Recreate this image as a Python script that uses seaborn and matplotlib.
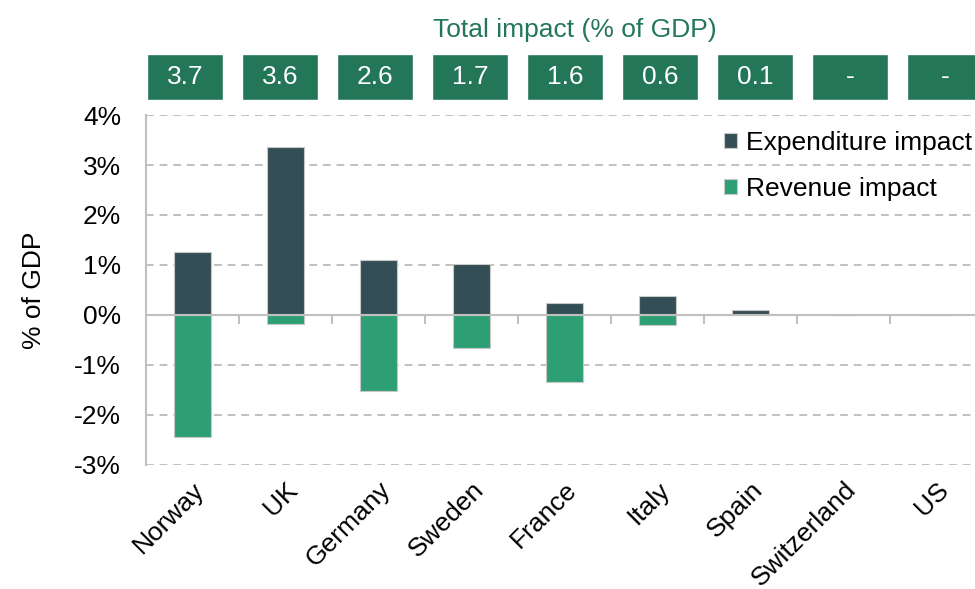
import matplotlib
matplotlib.use("Agg")
import matplotlib.pyplot as plt
import matplotlib.ticker as mticker
import numpy as np
import pandas as pd
import seaborn as sns

countries = ["Norway", "UK", "Germany", "Sweden", "France", "Italy", "Spain", "Switzerland", "US"]
expenditure = [1.26, 3.37, 1.10, 1.02, 0.24, 0.38, 0.11, 0.0, 0.0]
revenue = [-2.44, -0.17, -1.51, -0.65, -1.33, -0.19, 0.0, 0.0, 0.0]
totals = ["3.7", "3.6", "2.6", "1.7", "1.6", "0.6", "0.1", "-", "-"]

dark = "#334f55"
green = "#2e9e74"
box_green = "#247659"
grey = "#c0c0c0"

df = pd.DataFrame({
    "country": countries * 2,
    "value": expenditure + revenue,
    "type": ["Expenditure impact"] * 9 + ["Revenue impact"] * 9,
})

sns.set_style("white", {"text.color": "black", "axes.labelcolor": "black",
                        "xtick.color": "black", "ytick.color": "black"})
plt.rcParams["font.family"] = ["Liberation Sans", "DejaVu Sans"]
fs = 19

fig = plt.figure(figsize=(9.75, 5.89), dpi=100)
ax = fig.add_axes([146 / 975, 124 / 589, 837 / 975, 350 / 589])

sns.barplot(data=df, x="country", y="value", hue="type", dodge=False, width=0.4,
            palette=[dark, green], saturation=1, edgecolor="#c8c8c8", linewidth=0.8, ax=ax)

ax.set_xlim(-0.5, 8.5)
ax.set_ylim(-3, 4)
ax.set_yticks(range(-3, 5))
ax.yaxis.set_major_formatter(mticker.FuncFormatter(lambda v, p: f"{v:.0f}%"))
ax.yaxis.grid(True, color=grey, linestyle=(0, (4, 3)), linewidth=1.4)
ax.set_axisbelow(True)
for s in ["top", "right", "bottom"]:
    ax.spines[s].set_visible(False)
ax.spines["left"].set_color(grey)
ax.spines["left"].set_linewidth(1.5)
ax.axhline(0, color=grey, linewidth=1.5, zorder=1)
ax.tick_params(axis="y", length=6, color=grey, width=1.3, labelsize=fs, pad=12,
               direction="out", labelcolor="black")
ax.tick_params(axis="x", length=0, labelsize=fs, pad=9, labelcolor="black")
plt.setp(ax.get_xticklabels(), rotation=45, ha="right", rotation_mode="anchor")
ax.set_xlabel("")
ax.set_ylabel("% of GDP", fontsize=fs, labelpad=20)

# category separator ticks on the zero line
sec = ax.secondary_xaxis(3 / 7)
sec.set_xticks(np.arange(0.5, 8.5))
sec.tick_params(axis="x", direction="out", length=6.5, width=1.5, color=grey,
                labelbottom=False, labeltop=False, bottom=True, top=False)
for s in sec.spines.values():
    s.set_visible(False)

leg = ax.legend(loc="upper right", bbox_to_anchor=(1.0, 1 - 128 / 589),
                bbox_transform=fig.transFigure, frameon=False, fontsize=fs,
                handlelength=0.5, handleheight=0.5, handletextpad=0.35,
                labelspacing=0.85, borderaxespad=0.0, borderpad=0.1)

# total impact boxes
ax_top = fig.add_axes([137.5 / 975, 489 / 589, 855 / 975, 46 / 589])
ax_top.bar(range(len(totals)), np.ones(len(totals)), width=0.8, color=box_green)
for i, t in enumerate(totals):
    ax_top.text(i, 0.5, t, color="white", fontsize=fs, ha="center", va="center")
ax_top.set_xlim(-0.5, 8.5)
ax_top.set_ylim(0, 1)
ax_top.axis("off")
fig.text(575 / 975, 1 - 30 / 589, "Total impact (% of GDP)", color=box_green,
         fontsize=fs, ha="center", va="center")

fig.savefig("out.png", dpi=100)
